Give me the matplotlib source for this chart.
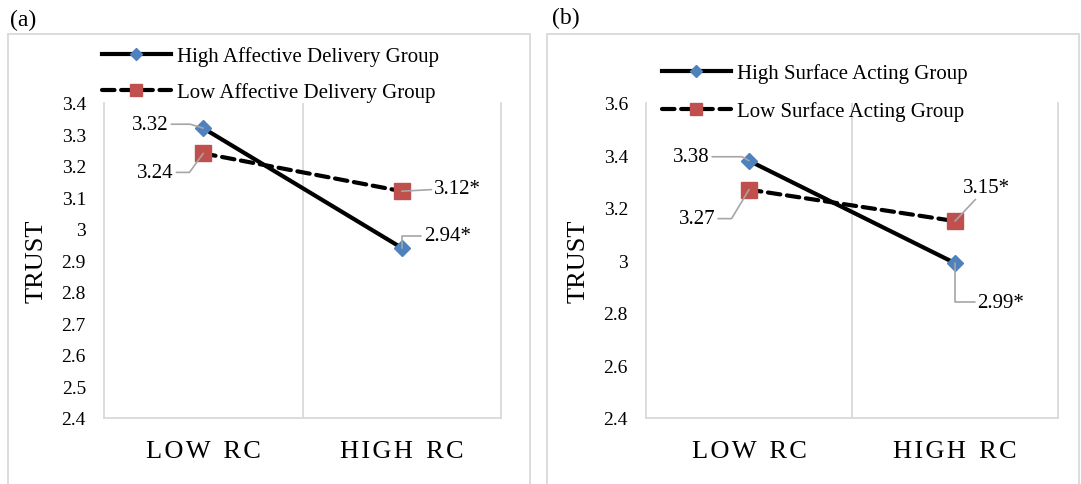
import numpy as np
import matplotlib.pyplot as plt
from matplotlib.patches import Rectangle

plt.rcParams['font.family'] = ['Liberation Serif', 'DejaVu Serif']

# data
categories = ['L\u200aO\u200aW  R\u200aC', 'H\u200aI\u200aG\u200aH  R\u200aC']
a_labels = ['High Affective Delivery Group', 'Low Affective Delivery Group']
a_high = [3.32, 2.94]
a_low = [3.24, 3.12]
a_text_high = ['3.32', '2.94*']
a_text_low = ['3.24', '3.12*']
a_ticks = [2.4, 2.5, 2.6, 2.7, 2.8, 2.9, 3.0, 3.1, 3.2, 3.3, 3.4]

b_labels = ['High Surface Acting Group', 'Low Surface Acting Group']
b_high = [3.38, 2.99]
b_low = [3.27, 3.15]
b_text_high = ['3.38', '2.99*']
b_text_low = ['3.27', '3.15*']
b_ticks = [2.4, 2.6, 2.8, 3.0, 3.2, 3.4, 3.6]

W, H = 1081, 485
fig = plt.figure(figsize=(W / 100, H / 100), dpi=100)

def px_rect(x0, y0, x1, y1):
    return [x0 / W, 1 - y1 / H, (x1 - x0) / W, (y1 - y0) / H]

grey = '#D9D9D9'
lead = '#A6A6A6'
blue = '#4F81BD'
red = '#C0504D'

# panel frames
for x0, x1 in [(8, 530), (547, 1079)]:
    fig.patches.append(Rectangle((x0 / W, -0.05), (x1 - x0) / W, 1.05 - 35 / H,
                                 transform=fig.transFigure, fill=False,
                                 edgecolor=grey, lw=1.3))
fig.text(10 / W, 1 - 20 / H, '(a)', fontsize=17, va='center', ha='left')
fig.text(552 / W, 1 - 18 / H, '(b)', fontsize=17, va='center', ha='left')


def panel(rect, high, low, labels, th, tl, ticks, leg_xy, lab_spacing, notes):
    ax = fig.add_axes(rect)
    x = np.arange(len(categories))
    ax.plot(x, high, color='black', lw=3, marker='D', ms=8.5,
            mfc=blue, mec=blue, label=labels[0], zorder=3)
    ax.plot(x, low, color='black', lw=3, ls=(0, (3, 1.6)), dash_capstyle='round',
            marker='s', ms=12, mfc=red, mec=red, label=labels[1], zorder=3)
    ax.set_xlim(-0.5, 1.5)
    ax.set_ylim(ticks[0], ticks[-1])
    ax.set_yticks(ticks)
    ax.set_yticklabels(['{:g}'.format(t) for t in ticks])
    ax.set_xticks(x)
    ax.set_xticklabels(categories, fontsize=19)
    ax.tick_params(axis='y', length=0, pad=13, labelsize=14)
    ax.tick_params(axis='x', length=0, pad=16)
    ax.axvline(0.5, color=grey, lw=1.3, zorder=1)
    for s in ['left', 'bottom', 'right']:
        ax.spines[s].set_color(grey)
        ax.spines[s].set_linewidth(1.3)
    ax.spines['top'].set_visible(False)
    ax.set_ylabel('TRUST', fontsize=19, va='center')
    ax.yaxis.set_label_coords(-67 / (rect[2] * W), 0.5)

    texts = [th[0], tl[0], th[1], tl[1]]
    pts = [(0, high[0]), (0, low[0]), (1, high[1]), (1, low[1])]
    for t, p, (off, conn) in zip(texts, pts, notes):
        ax.annotate(t, xy=p, xytext=off, textcoords='offset pixels',
                    ha='center', va='center', fontsize=15, zorder=5,
                    arrowprops=dict(arrowstyle='-', color=lead, lw=1.2,
                                    shrinkA=0, shrinkB=0, connectionstyle=conn))
    ax.legend(loc='upper left', bbox_to_anchor=(leg_xy[0] / W, 1 - leg_xy[1] / H),
              bbox_transform=fig.transFigure, frameon=False, fontsize=15,
              handlelength=3.3, handletextpad=0.3, borderpad=0, borderaxespad=0,
              labelspacing=lab_spacing, markerscale=0.75)
    return ax


panel(px_rect(104, 104, 501, 419), a_high, a_low, a_labels, a_text_high, a_text_low,
      a_ticks, (102, 47), 0.78,
      [((-53, 4), 'angle,angleA=0,angleB=163'),
       ((-48, -19), 'angle,angleA=0,angleB=234'),
       ((46, 12), 'angle,angleA=0,angleB=90'),
       ((56, 3), 'arc3')])

panel(px_rect(646, 104, 1058, 419), b_high, b_low, b_labels, b_text_high, b_text_low,
      b_ticks, (662, 64), 0.87,
      [((-58, 4), 'angle,angleA=0,angleB=150'),
       ((-52, -29), 'angle,angleA=0,angleB=239'),
       ((46, -39), 'angle,angleA=0,angleB=90'),
       ((32, 34), 'arc3')])

fig.savefig('out.png', dpi=100)
